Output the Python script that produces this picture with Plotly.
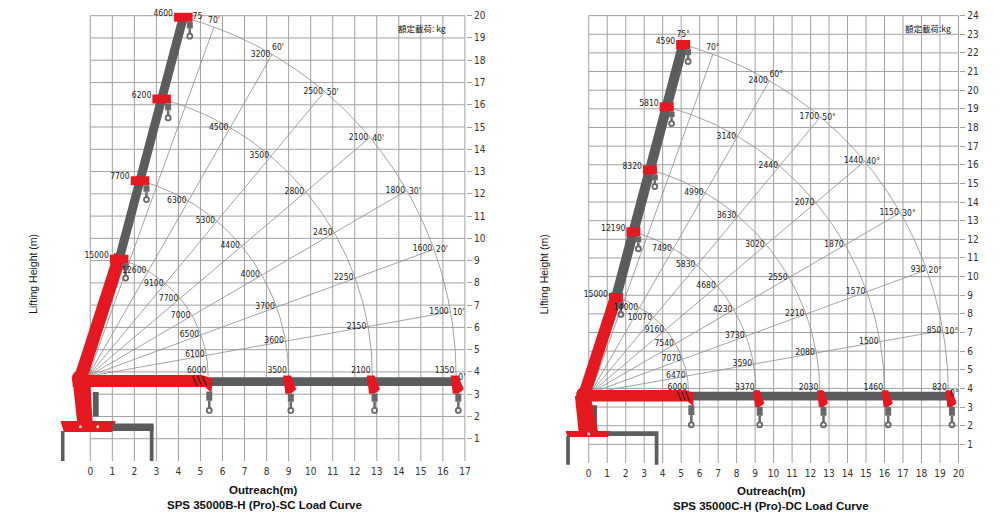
import numpy as np
import plotly.graph_objects as go

# rated load (kg) read at each boom angle, one row per boom section (short -> long)
angles = [0, 10, 20, 30, 40, 50, 60, 75]
mark_angles = [0, 10, 20, 30, 40, 50, 60, 70, 75]

sc_reach = [5.45, 9.1, 12.9, 16.7]
sc_loads = [
    [6000, 6100, 6500, 7000, 7700, 9100, 12600, 15000],
    [3500, 3600, 3700, 4000, 4400, 5300, 6300, 7700],
    [2100, 2150, 2250, 2450, 2800, 3500, 4500, 6200],
    [1350, 1500, 1600, 1800, 2100, 2500, 3200, 4600],
]

dc_reach = [5.3, 8.95, 12.4, 15.9, 19.35]
dc_loads = [
    [6000, 6470, 7070, 7540, 9160, 10070, 14000, 15000],
    [3370, 3590, 3730, 4230, 4680, 5830, 7490, 12190],
    [2030, 2080, 2210, 2550, 3020, 3630, 4990, 8320],
    [1460, 1500, 1570, 1870, 2070, 2440, 3140, 5810],
    [820, 850, 930, 1150, 1440, 1700, 2400, 4590],
]

sc_xticks = list(range(0, 18))
sc_yticks = list(range(1, 21))
dc_xticks = list(range(0, 21))
dc_yticks = list(range(1, 25))

RED = '#e5181f'
GRAY = '#5b5c5e'
HOOK = '#67686a'
GRID = '#a0a0a0'
CURVE = '#8c8c8c'
NARROW = 'Liberation Sans Narrow, Arial Narrow, DejaVu Sans Condensed, Liberation Sans, sans-serif'
# page body keeps an 8px margin, so the figure is drawn 8px smaller on each side
OFF = 8
W, H = 1000 - 2 * OFF, 529 - 2 * OFF

fig = go.Figure()


def pol(p, r, a):
    t = np.radians(a)
    return p[0] + r * np.cos(t), p[1] + r * np.sin(t)


def poly(xa, ya, pts, color, lw=0):
    xs = [p[0] for p in pts] + [pts[0][0]]
    ys = [p[1] for p in pts] + [pts[0][1]]
    fig.add_trace(go.Scatter(x=xs, y=ys, mode='lines', fill='toself', fillcolor=color,
                             line=dict(color=color, width=lw), xaxis=xa, yaxis=ya, hoverinfo='skip'))


def seg(xa, ya, p0, p1, color, width):
    fig.add_trace(go.Scatter(x=[p0[0], p1[0]], y=[p0[1], p1[1]], mode='lines',
                             line=dict(color=color, width=width), xaxis=xa, yaxis=ya, hoverinfo='skip'))


def hook(xa, ya, x, y_top, drop):
    seg(xa, ya, (x, y_top), (x, y_top - drop * 0.55), HOOK, 6)
    seg(xa, ya, (x, y_top - drop * 0.55), (x, y_top - drop), HOOK, 2.5)
    fig.add_trace(go.Scatter(x=[x], y=[y_top - drop - 0.1], mode='markers',
                             marker=dict(symbol='circle-open', size=5, color=HOOK, line=dict(width=1.8)),
                             xaxis=xa, yaxis=ya, hoverinfo='skip'))


def chart(xa, ya, pivot, reach, loads, xmax, ymax, deg, g):
    # grid
    gx, gy = [], []
    for v in range(0, xmax + 1):
        gx += [v, v, None]
        gy += [0, ymax, None]
    for v in range(1, ymax + 1):
        gx += [0, xmax, None]
        gy += [v, v, None]
    fig.add_trace(go.Scatter(x=gx, y=gy, mode='lines', line=dict(color=GRID, width=1),
                             xaxis=xa, yaxis=ya, hoverinfo='skip'))

    # load curves + angle rays
    cx, cy = [], []
    t = np.linspace(0, 75, 90)
    for r in reach:
        px, py = pol(pivot, r, t)
        cx += list(px) + [None]
        cy += list(py) + [None]
    for a in mark_angles[1:-1]:
        ex, ey = pol(pivot, reach[-1], a)
        cx += [pivot[0], ex, None]
        cy += [pivot[1], ey, None]
    fig.add_trace(go.Scatter(x=cx, y=cy, mode='lines', line=dict(color=CURVE, width=0.8),
                             xaxis=xa, yaxis=ya, hoverinfo='skip'))

    # crane: base
    poly(xa, ya, g['plate'], RED)
    poly(xa, ya, g['beam'], GRAY)
    poly(xa, ya, g['leg_l'], GRAY)
    poly(xa, ya, g['leg_r'], GRAY)
    poly(xa, ya, g['cyl'], GRAY)
    poly(xa, ya, g['column'], RED)
    fig.add_trace(go.Scatter(x=[b[0] for b in g['bolts']], y=[b[1] for b in g['bolts']], mode='markers',
                             marker=dict(color='#f4e9d8', size=3), xaxis=xa, yaxis=ya, hoverinfo='skip'))

    # inclined boom at 75 deg
    nodes = [pol(pivot, r, 75) for r in reach]
    knuck = (pivot[0] - 0.35, pivot[1] - 0.1)
    seg(xa, ya, nodes[0], pol(pivot, reach[-1] + 0.1, 75), GRAY, g['gray_w'])
    seg(xa, ya, knuck, pol(pivot, reach[0] + 0.2, 75), RED, g['red_w'])

    # horizontal boom
    tips = [pivot[0] + r + g['tip_dx'] for r in reach]
    yb0, yb1 = g['hb']
    poly(xa, ya, [(tips[0], yb0 + 0.05), (tips[-1], yb0 + 0.05), (tips[-1], yb1 - 0.1), (tips[0], yb1 - 0.1)], GRAY)
    poly(xa, ya, [(pivot[0] - 0.7, yb0), (tips[0] - 0.2, yb0), (tips[0] + 0.1, yb0 - 0.25),
                  (tips[0] + 0.15, yb1 - 0.15), (tips[0] - 0.35, yb1), (pivot[0] - 0.7, yb1)], RED)
    for k in range(3):
        xs = tips[0] - 0.75 + 0.22 * k
        seg(xa, ya, (xs, yb1 - 0.05), (xs + 0.2, yb0 + 0.05), '#3a1a1a', 1.2)
    fig.add_trace(go.Scatter(x=[knuck[0]], y=[knuck[1]], mode='markers',
                             marker=dict(color=RED, size=g['knuck_sz']), xaxis=xa, yaxis=ya, hoverinfo='skip'))
    hook(xa, ya, tips[0] + 0.0, yb0 - 0.2, g['drop'])
    for x in tips[1:]:
        poly(xa, ya, [(x - 0.3, yb1 - 0.02), (x + 0.05, yb1 - 0.02), (x + 0.3, yb0 - 0.1),
                      (x + 0.05, yb0 - 0.3), (x - 0.2, yb0 - 0.3)], RED)
        hook(xa, ya, x + 0.05, yb0 - 0.3, g['drop'] - 0.1)

    # nodes on inclined boom
    for i, (nx, ny) in enumerate(nodes):
        bw, bh = g['node']
        poly(xa, ya, [(nx - bw, ny - bh), (nx + bw, ny - bh), (nx + bw, ny + bh), (nx - bw, ny + bh)], RED)
        hook(xa, ya, nx + bw * 0.7, ny - bh, 0.55)

    # load labels
    lx, ly, lt, lp = [], [], [], []
    for r, row in zip(reach, loads):
        for a, v in zip(angles, row):
            if a == 75:
                nx, ny = pol(pivot, r, 75)
                lx.append(nx - g['node'][0] - 0.05)
                ly.append(ny + 0.15)
                lp.append('middle left')
            else:
                px, py = pol(pivot, r, a)
                lx.append(px - 0.08)
                ly.append(py + (0.05 if a == 0 else 0.0))
                lp.append('top left' if a == 0 else 'middle left')
            lt.append(str(v))
    fig.add_trace(go.Scatter(x=lx, y=ly, text=lt, mode='text', textposition=lp, cliponaxis=False,
                             textfont=dict(family=NARROW, size=8.5, color='#1a1a1a'),
                             xaxis=xa, yaxis=ya, hoverinfo='skip'))

    # angle marks at the outer curve
    ax_, ay_, at_, ap_ = [], [], [], []
    for a in mark_angles:
        px, py = pol(pivot, reach[-1], a)
        if a == 75:
            if deg == '°':
                ax_.append(px); ay_.append(py + 0.3); ap_.append('top center')
            else:
                ax_.append(px + g['node'][0]); ay_.append(py); ap_.append('middle right')
        elif a >= 60:
            ax_.append(px); ay_.append(py + 0.1); ap_.append('top right' if a == 60 else 'top center')
        else:
            ax_.append(px + 0.1); ay_.append(py - 0.05); ap_.append('middle right')
        at_.append(str(a) + ('' if (a == 75 and deg != '°') else deg))
    fig.add_trace(go.Scatter(x=ax_, y=ay_, text=at_, mode='text', textposition=ap_, cliponaxis=False,
                             textfont=dict(family=NARROW, size=8.5, color='#1a1a1a'),
                             xaxis=xa, yaxis=ya, hoverinfo='skip'))


sc_geo = dict(
    plate=[(-1.35, 1.8), (1.15, 1.8), (1.0, 1.3), (-1.2, 1.3)],
    beam=[(1.0, 1.35), (2.87, 1.35), (2.87, 1.68), (1.0, 1.68)],
    leg_l=[(-1.33, 0), (-1.17, 0), (-1.17, 1.35), (-1.33, 1.35)],
    leg_r=[(2.7, 0), (2.87, 0), (2.87, 1.6), (2.7, 1.6)],
    cyl=[(0.12, 2.0), (0.38, 2.0), (0.38, 3.1), (0.12, 3.1)],
    column=[(-0.6, 1.78), (0.1, 1.78), (0.0, 3.6), (-0.8, 3.6)],
    bolts=[(-0.45, 1.54), (0.34, 1.54)],
    gray_w=9, red_w=13, knuck_sz=17, tip_dx=0.05, hb=(3.32, 3.86), drop=0.75,
    node=(0.42, 0.2),
)
dc_geo = dict(
    plate=[(-1.25, 1.72), (1.2, 1.72), (1.05, 1.4), (-1.15, 1.4)],
    beam=[(1.05, 1.45), (3.77, 1.45), (3.77, 1.7), (1.05, 1.7)],
    leg_l=[(-1.22, -0.1), (-1.02, -0.1), (-1.02, 1.45), (-1.22, 1.45)],
    leg_r=[(3.57, -0.1), (3.77, -0.1), (3.77, 1.45), (3.57, 1.45)],
    cyl=[(0.18, 2.0), (0.45, 2.0), (0.45, 3.1), (0.18, 3.1)],
    column=[(-0.55, 1.7), (0.5, 1.7), (0.1, 3.6), (-0.75, 3.6)],
    bolts=[(0.0, 1.56)],
    gray_w=10, red_w=12, knuck_sz=16, tip_dx=0.15, hb=(3.3, 3.92), drop=0.95,
    node=(0.38, 0.25),
)

chart('x', 'y', (-0.1, 3.8), sc_reach, sc_loads, 17, 20, "'", sc_geo)
chart('x2', 'y2', (0.1, 3.75), dc_reach, dc_loads, 20, 24, '°', dc_geo)

# axis placement from pixel geometry of the reference (window pixels)
sc_x0, sc_ppx, sc_y0, sc_ppy = 90.7, 22.15, 461.0, 22.265
dc_x0, dc_ppx, dc_y0, dc_ppy = 591.7, 18.58, 463.0, 18.64
sc_xr, sc_yr = [-1.42, 17.05], [-0.15, 20.3]
dc_xr, dc_yr = [-1.32, 20.05], [-0.15, 24.35]


def px2x(px):
    return min(max((px - OFF) / W, 0), 1)


def px2y(py):
    return min(max(1 - (py - OFF) / H, 0), 1)


def xdom(x0, ppx, r):
    return [px2x(x0 + r[0] * ppx), px2x(x0 + r[1] * ppx)]


def ydom(y0, ppy, r):
    return [px2y(y0 - r[0] * ppy), px2y(y0 - r[1] * ppy)]


tickfont = dict(family=NARROW, size=10, color='#333333')
xcommon = dict(showgrid=False, zeroline=False, showline=False, ticks='', tickfont=tickfont, fixedrange=True)
ycommon = dict(showgrid=False, zeroline=False, showline=False, side='right', ticks='outside',
               ticklen=5, tickcolor=GRID, tickfont=tickfont, fixedrange=True)

fig.update_layout(
    width=W, height=H,
    margin=dict(l=0, r=0, t=0, b=0),
    paper_bgcolor='white', plot_bgcolor='white',
    showlegend=False,
    xaxis=dict(range=sc_xr, domain=xdom(sc_x0, sc_ppx, sc_xr), tickvals=sc_xticks, anchor='y', **xcommon),
    yaxis=dict(range=sc_yr, domain=ydom(sc_y0, sc_ppy, sc_yr), tickvals=sc_yticks, anchor='x', **ycommon),
    xaxis2=dict(range=dc_xr, domain=xdom(dc_x0, dc_ppx, dc_xr), tickvals=dc_xticks, anchor='y2', **xcommon),
    yaxis2=dict(range=dc_yr, domain=ydom(dc_y0, dc_ppy, dc_yr), tickvals=dc_yticks, anchor='x2', **ycommon),
)


def note(px, py, text, size, family='Liberation Sans, Arial, sans-serif', angle=0):
    fig.add_annotation(x=px2x(px), y=px2y(py), xref='paper', yref='paper', text=text, showarrow=False,
                       textangle=angle, xanchor='center', yanchor='middle',
                       font=dict(family=family, size=size, color='#111111'))


note(33, 274, 'Lifting Height (m)', 10.5, angle=-90)
note(547, 274, 'Lifting Height (m)', 10.5, angle=-90)
note(265, 490, '<b>Outreach(m)</b>', 11.5)
note(266, 505, '<b>SPS 35000B-H (Pro)-SC Load Curve</b>', 11.5)
note(775, 491, '<b>Outreach(m)</b>', 11.5)
note(775, 506, '<b>SPS 35000C-H (Pro)-DC Load Curve</b>', 11.5)
note(424, 28, '額定載荷: kg', 8.5, family='Noto Sans CJK TC, sans-serif')
note(933, 28, '額定載荷:kg', 8.5, family='Noto Sans CJK TC, sans-serif')

fig.write_html("out.html")
